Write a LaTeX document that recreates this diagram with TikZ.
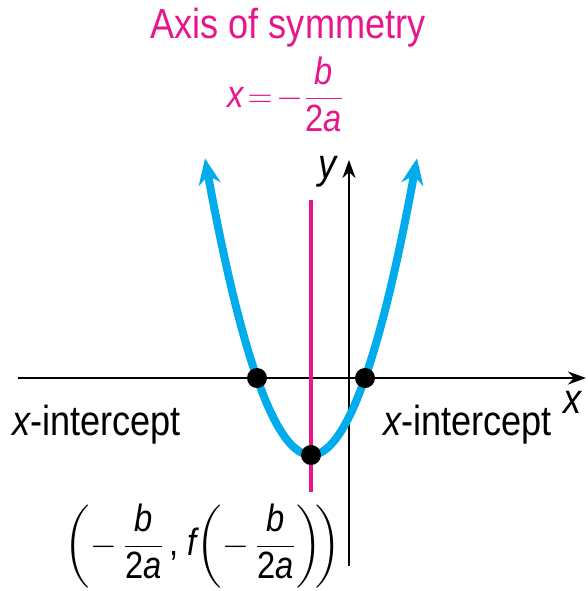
\documentclass[tikz,border=0pt]{standalone}
\usepackage{amsmath}
\usepackage{fontspec}
\setmainfont{Liberation Sans}[FakeStretch=0.86]
\usetikzlibrary{arrows.meta}
\definecolor{pinkc}{RGB}{232,22,140}
\definecolor{bluec}{RGB}{0,172,236}
\newcommand{\ffrac}[2]{\dfrac{\text{#1}}{\text{#2}}}
\begin{document}
\begin{tikzpicture}[x=0.5pt,y=-0.5pt,
  lbl/.style={font=\fontsize{21}{24}\selectfont, inner sep=0pt},
  dot/.style={circle, fill=black, minimum size=10pt, inner sep=0pt},
  axisline/.style={line width=1.4pt, -{Stealth[length=9pt,width=6.5pt]}},
  parab/.style={bluec, line width=4pt, {Stealth[length=13pt,width=11pt]}-{Stealth[length=13pt,width=11pt]}}]
\useasboundingbox (0,0) rectangle (588,591);
% axes
\coordinate (xa0) at (18,378);
\coordinate (xa1) at (586,378);
\coordinate (ya0) at (349,566);
\coordinate (ya1) at (349,160);
\draw[axisline] (xa0) -- (xa1);
\draw[axisline] (ya0) -- (ya1);
% axis of symmetry
\coordinate (s0) at (311,200);
\coordinate (s1) at (311,492);
\draw[pinkc, line width=1.6pt] (s0) -- (s1);
% parabola
\draw[parab] plot[domain=-106:106, samples=80, smooth] ({311+\x},{455-0.0264*\x*\x});
% points
\node[dot] (v) at (311,455) {};
\node[dot] (r1) at (257,378) {};
\node[dot] (r2) at (365,378) {};
% labels
\node[lbl] (xl) at (573,402) {\itshape x};
\node[lbl] (yl) at (328,172) {\itshape y};
\node[lbl, anchor=west] (li) at (12,425) {\itshape x\upshape -intercept};
\node[lbl, anchor=west] (ri) at (383,425) {\itshape x\upshape -intercept};
\node[lbl, pinkc] (t1) at (288,28) {Axis of symmetry};
\node[lbl, pinkc, font=\fontsize{19}{22}\selectfont] (t2) at (286,94) {$\text{\itshape x}\!=\!-\ffrac{\itshape b}{2\itshape a}$};
\node[lbl, font=\fontsize{19}{22}\selectfont] (vl) at (203,546) {$\left(-\,\ffrac{\itshape b}{2\itshape a}\,\text{,}\ \text{\itshape f}\!\left(-\,\ffrac{\itshape b}{2\itshape a}\right)\!\right)$};
\end{tikzpicture}
\end{document}
